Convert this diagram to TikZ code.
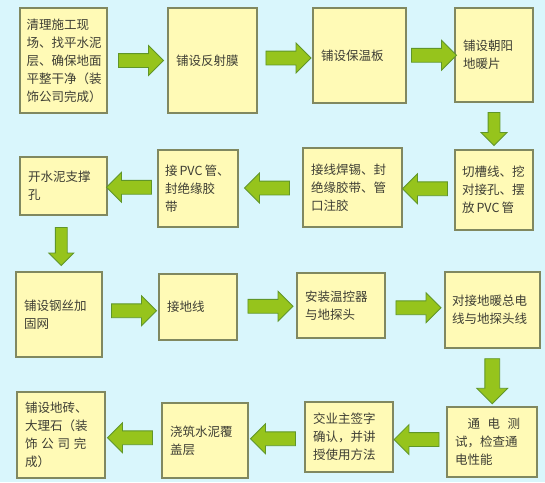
\documentclass[tikz,border=0pt]{standalone}
\usepackage{fontspec}
\setmainfont{Noto Sans CJK SC}
\usetikzlibrary{shapes.arrows,calc}
\definecolor{bgcyan}{RGB}{217,246,252}
\definecolor{boxfill}{RGB}{255,250,182}
\definecolor{boxline}{RGB}{128,136,96}
\definecolor{arrowfill}{RGB}{150,196,28}
\definecolor{arrowline}{RGB}{96,150,40}
\definecolor{textgray}{RGB}{62,62,52}
\tikzset{
  box/.style={draw=boxline, fill=boxfill, line width=1.1pt, inner sep=0pt,
    align=left, text=textgray, font=\fontsize{12.5}{18}\selectfont},
  flow/.style={single arrow, draw=arrowline, fill=arrowfill, line width=0.8pt,
    inner xsep=0pt, inner ysep=6.5pt, minimum height=45pt,
    single arrow head extend=8pt},
  flowleft/.style={flow, shape border rotate=180},
  flowdown/.style={flow, shape border rotate=270, inner ysep=0pt}
}
\begin{document}
\begin{tikzpicture}[x=1pt,y=-1pt]
    \fill[bgcyan] (0,0) rectangle (545,482);
    \useasboundingbox (0,0) rectangle (545,482);
    % first row
    \node[box, minimum width=87, minimum height=105, text width=74] (clean) at (63.5,60.5) {清理施工现\\场、找平水泥\\层、确保地面\\平整干净（装\\饰公司完成）};
    \node[box, minimum width=89, minimum height=105, text width=73] (film) at (212.5,60.5) {铺设反射膜};
    \node[box, minimum width=93, minimum height=95, text width=77] (board) at (359.5,55.5) {铺设保温板};
    \node[box, minimum width=78, minimum height=94, text width=62] (sheet) at (494,55) {铺设朝阳\\地暖片};
    % second row
    \node[box, minimum width=78, minimum height=80, text width=64] (groove) at (494,190) {切槽线、挖\\对接孔、摆\\放\,PVC\,管};
    \node[box, minimum width=99, minimum height=79, text width=83] (solder) at (352.5,187.5) {接线焊锡、封\\绝缘胶带、管\\口注胶};
    \node[box, minimum width=80, minimum height=77, text width=66] (pvc) at (198,188.5) {\mbox{接\,PVC\,管、}\\封绝缘胶\\带};
    \node[box, minimum width=87, minimum height=58, text width=71] (holes) at (63.5,186) {开水泥支撑\\孔};
    % third row
    \node[box, minimum width=86, minimum height=85, text width=70] (mesh) at (59,314.5) {铺设钢丝加\\固网};
    \node[box, minimum width=78, minimum height=66, text width=62] (ground) at (198,307) {接地线};
    \node[box, minimum width=88, minimum height=65, text width=72] (thermo) at (341,305.5) {安装温控器\\与地探头};
    \node[box, minimum width=95, minimum height=76, text width=81] (wiring) at (492.5,310) {对接地暖总电\\线与地探头线};
    % fourth row
    \node[box, minimum width=90, minimum height=70, text width=74] (test) at (492,442) {\hspace{1em}通\hspace{0.6em}电\hspace{0.6em}测\\试，检查通\\电性能};
    \node[box, minimum width=88, minimum height=70, text width=72] (sign) at (349,437) {交业主签字\\确认，并讲\\授使用方法};
    \node[box, minimum width=86, minimum height=75, text width=70] (pour) at (205,440.5) {浇筑水泥覆\\盖层};
    \node[box, minimum width=88, minimum height=86, text width=72] (tile) at (61,435) {铺设地砖、\\大理石（装\\饰\hspace{0.3em}公\hspace{0.3em}司\hspace{0.3em}完\\成）};
    % arrows
    \node[flow] (a1) at ($(clean.east)!0.5!(film.west)$) {};
    \node[flow] (a2) at ($(film.east)!0.5!(board.west)$) {};
    \node[flow] (a3) at ($(board.east)!0.5!(sheet.west)$) {};
    \node[flowdown, minimum height=33pt, inner xsep=5.5pt, single arrow head extend=7pt] (a4) at ($(sheet.south)!0.5!(groove.north)$) {};
    \node[flowleft] (a5) at ($(groove.west)!0.5!(solder.east)$) {};
    \node[flowleft] (a6) at ($(solder.west)!0.5!(pvc.east)$) {};
    \node[flowleft] (a7) at ($(pvc.west)!0.5!(holes.east)$) {};
    \node[flowdown, minimum height=38pt, inner xsep=5.5pt, single arrow head extend=6.5pt] (a8) at ($(holes.south)!0.5!(mesh.north)$) {};
    \node[flow] (a9) at ($(mesh.east)!0.5!(ground.west)$) {};
    \node[flow] (a10) at ($(ground.east)!0.5!(thermo.west)$) {};
    \node[flow] (a11) at ($(thermo.east)!0.5!(wiring.west)$) {};
    \node[flowdown, minimum height=45pt, inner xsep=7pt] (a12) at ($(wiring.south)!0.5!(test.north)$) {};
    \node[flowleft] (a13) at ($(test.west)!0.5!(sign.east)$) {};
    \node[flowleft] (a14) at ($(sign.west)!0.5!(pour.east)$) {};
    \node[flowleft] (a15) at ($(pour.west)!0.5!(tile.east)$) {};
\end{tikzpicture}
\end{document}
